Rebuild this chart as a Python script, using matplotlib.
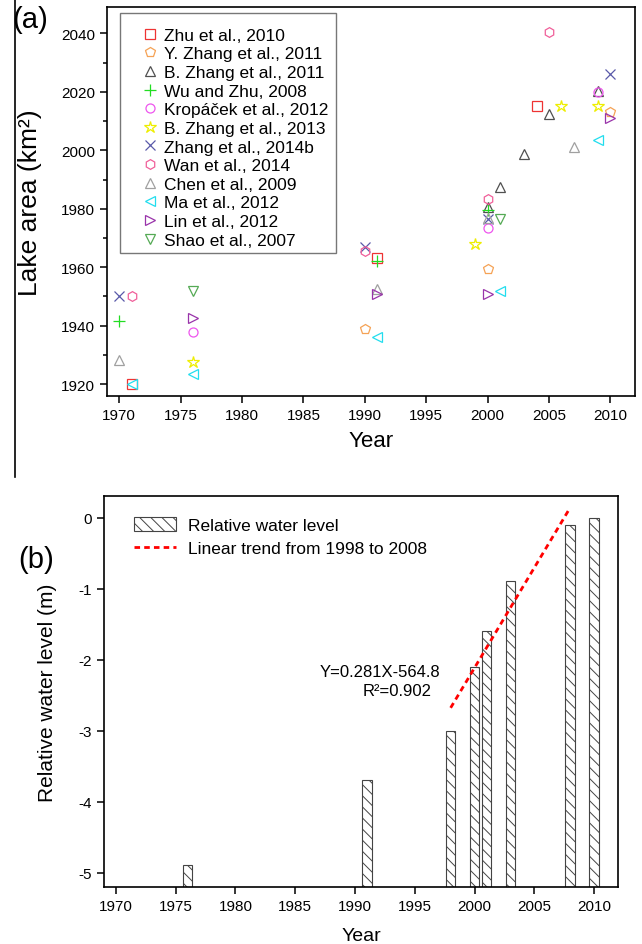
import matplotlib
matplotlib.use('Agg')
import matplotlib.pyplot as plt
from matplotlib.lines import Line2D
from matplotlib.patches import Rectangle
from matplotlib.ticker import MultipleLocator

plt.rcParams['font.family'] = ['Liberation Sans', 'DejaVu Sans']
plt.rcParams['hatch.linewidth'] = 0.7
plt.rcParams['axes.unicode_minus'] = False

# (a) lake area estimates from different studies
zhu_x = [1971, 1991, 2004]
zhu_y = [1920, 1963, 2015]
yzhang_x = [1990, 2000, 2010]
yzhang_y = [1939, 1959.5, 2013]
bzhang11_x = [2000, 2001, 2003, 2005, 2009]
bzhang11_y = [1980.5, 1987.5, 1998.7, 2012.5, 2020.3]
wu_x = [1970, 1991, 2000]
wu_y = [1941.5, 1962, 1979.5]
krop_x = [1976, 2000, 2009]
krop_y = [1938, 1973.5, 2020]
bzhang13_x = [1976, 1999, 2006, 2009]
bzhang13_y = [1927.5, 1968, 2015, 2015.3]
zhang14_x = [1970, 1990, 2000, 2010]
zhang14_y = [1950, 1967, 1976.5, 2026]
wan_x = [1971, 1990, 2000, 2005]
wan_y = [1950.3, 1965.5, 1983.5, 2040.5]
chen_x = [1970, 1991, 2000, 2007]
chen_y = [1928.3, 1952.5, 1977, 2001]
ma_x = [1971, 1976, 1991, 2001, 2009]
ma_y = [1920, 1923.5, 1936, 1952, 2003.5]
lin_x = [1976, 1991, 2000, 2010]
lin_y = [1942.5, 1951, 1951, 2011]
shao_x = [1976, 2001]
shao_y = [1952, 1976.5]

# (b) relative water level
wl_years = [1976, 1991, 1998, 2000, 2001, 2003, 2008, 2010]
wl_values = [-4.9, -3.7, -3.0, -2.1, -1.6, -0.9, -0.1, 0.0]
trend_years = [1998, 2008]
trend_values = [-2.68, 0.14]

studies = [
    ('Zhu et al., 2010', zhu_x, zhu_y, 's', '#EE3333', 6.5),
    ('Y. Zhang et al., 2011', yzhang_x, yzhang_y, 'p', '#F5A255', 7.5),
    ('B. Zhang et al., 2011', bzhang11_x, bzhang11_y, '^', '#505050', 7),
    ('Wu and Zhu, 2008', wu_x, wu_y, '+', '#22DD22', 8),
    ('Kropáček et al., 2012', krop_x, krop_y, 'o', '#EE55EE', 6.5),
    ('B. Zhang et al., 2013', bzhang13_x, bzhang13_y, '*', '#EEEE00', 9),
    ('Zhang et al., 2014b', zhang14_x, zhang14_y, 'x', '#5A5AAA', 7),
    ('Wan et al., 2014', wan_x, wan_y, 'h', '#F0609A', 7),
    ('Chen et al., 2009', chen_x, chen_y, '^', '#A0A0A0', 7),
    ('Ma et al., 2012', ma_x, ma_y, '<', '#22DDEE', 7.5),
    ('Lin et al., 2012', lin_x, lin_y, '>', '#9933AA', 7.5),
    ('Shao et al., 2007', shao_x, shao_y, 'v', '#55AA55', 7.5),
]

fig = plt.figure(figsize=(6.42, 9.45), dpi=100)

# ---- panel (a)
ax1 = fig.add_axes([0.1667, 0.580, 0.8223, 0.4115])
for label, xs, ys, m, c, ms in studies:
    ax1.plot(xs, ys, linestyle='none', marker=m, ms=ms, mfc='none',
             mec=c, mew=0.9, label=label)

ax1.set_xlim(1969, 2012)
ax1.set_ylim(1916, 2049)
ax1.set_xticks(range(1970, 2011, 5))
ax1.set_yticks(range(1920, 2041, 20))
ax1.yaxis.set_minor_locator(MultipleLocator(10))
ax1.tick_params(direction='out', length=5, width=1.1, labelsize=11)
ax1.tick_params(which='minor', direction='out', length=3, width=1.1)
for s in ax1.spines.values():
    s.set_linewidth(1.2)
ax1.set_xlabel('Year', fontsize=16)
ax1.xaxis.set_label_coords(0.5, -0.088)
ax1.set_ylabel('Lake area (km²)', fontsize=19)
ax1.yaxis.set_label_coords(-0.123, 0.5)

ax1.add_patch(Rectangle((0.0246, 0.3676), 0.4091, 0.617, transform=ax1.transAxes,
                        fill=False, ec='#777777', lw=1))
ax1.legend(loc='upper left', bbox_to_anchor=(0.0652, 0.947), frameon=False,
           fontsize=12.5, handlelength=1.0, handletextpad=0.3, labelspacing=0.2,
           borderpad=0, borderaxespad=0, numpoints=1)

# ---- panel (b)
ax2 = fig.add_axes([0.162, 0.0606, 0.8006, 0.4132])
ymin = -5.2
bars = ax2.bar(wl_years, [v - ymin for v in wl_values], bottom=ymin, width=0.8,
               color='white', edgecolor='#444444', hatch='\\\\\\', lw=0.8,
               label='Relative water level')
trend, = ax2.plot(trend_years, trend_values, color='red', ls=(0, (2, 1.5)), lw=2,
                  label='Linear trend from 1998 to 2008')
ax2.text(1997.1, -2.17, 'Y=0.281X-564.8', ha='right', va='center', fontsize=12)
ax2.text(1996.4, -2.44, 'R²=0.902', ha='right', va='center', fontsize=12)

ax2.set_xlim(1969, 2012)
ax2.set_ylim(ymin, 0.3)
ax2.set_xticks(range(1970, 2011, 5))
ax2.set_yticks(range(-5, 1))
ax2.tick_params(direction='out', length=5, width=1.1, labelsize=11)
for s in ax2.spines.values():
    s.set_linewidth(1.2)
ax2.set_xlabel('Year', fontsize=14)
ax2.xaxis.set_label_coords(0.5, -0.103)
ax2.set_ylabel('Relative water level (m)', fontsize=15)
ax2.yaxis.set_label_coords(-0.091, 0.5)
ax2.legend(handles=[bars, trend], loc='upper left', bbox_to_anchor=(0.0584, 0.947),
           frameon=False, fontsize=12.5, handlelength=2.4, handleheight=0.9,
           handletextpad=0.7, labelspacing=0.4, borderpad=0, borderaxespad=0)

# panel labels and the frame line on the left
fig.text(0.047, 0.979, '(a)', fontsize=21, ha='center', va='center')
fig.text(0.056, 0.407, '(b)', fontsize=21, ha='center', va='center')
fig.add_artist(Line2D([0.024, 0.024], [1.0, 1 - 478 / 945], color='black', lw=1.2))

fig.savefig('out.png', dpi=100)
